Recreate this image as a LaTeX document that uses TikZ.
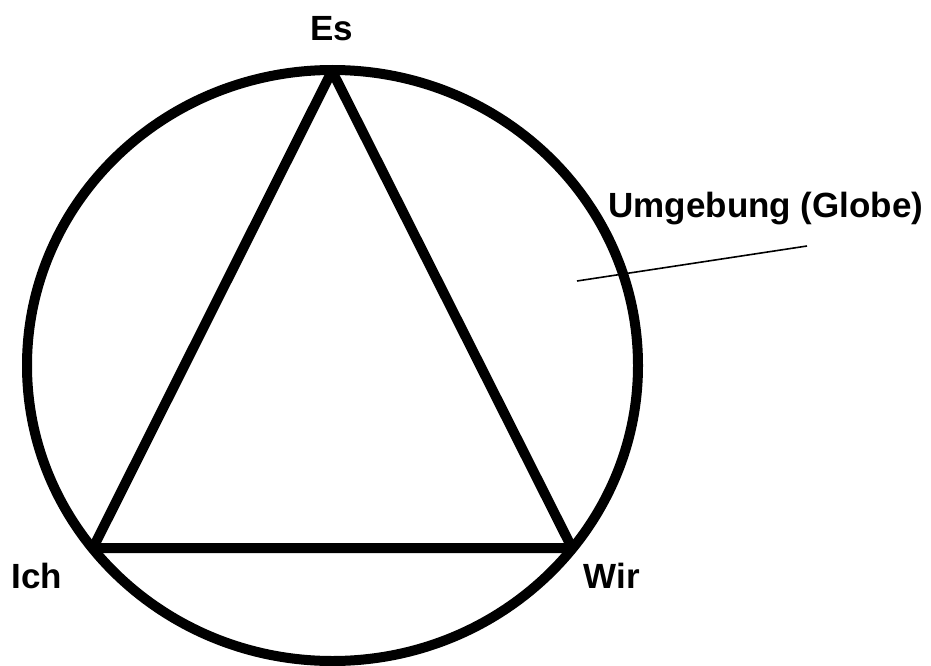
\documentclass[tikz,border=0pt]{standalone}
\usepackage{fontspec}
\setmainfont{Liberation Sans}
\begin{document}
\begin{tikzpicture}[x=1pt,y=-1pt,
  lbl/.style={font=\fontsize{35}{42}\bfseries\selectfont, anchor=base, inner sep=0pt},
  thick line/.style={line width=10pt, line join=round},
  leader/.style={line width=1.6pt}]
\useasboundingbox (0,0) rectangle (931,666);
\draw[thick line] (332.5,365.5) ellipse [x radius=305.5, y radius=295.5];
\coordinate (es) at (332,71);
\coordinate (ich) at (93,548);
\coordinate (wir) at (572,548);
\draw[thick line] (es) -- (ich) -- (wir) -- cycle;
\node[lbl] (tes) at (332,40.5) {Es};
\node[lbl] (tich) at (37,588) {Ich};
\node[lbl] (twir) at (612,588) {Wir};
\node[lbl] (tumg) at (766,217) {Umgebung (Globe)};
\coordinate (l1) at (577,281);
\coordinate (l2) at (807,246);
\draw[leader] (l1) -- (l2);
\end{tikzpicture}
\end{document}
